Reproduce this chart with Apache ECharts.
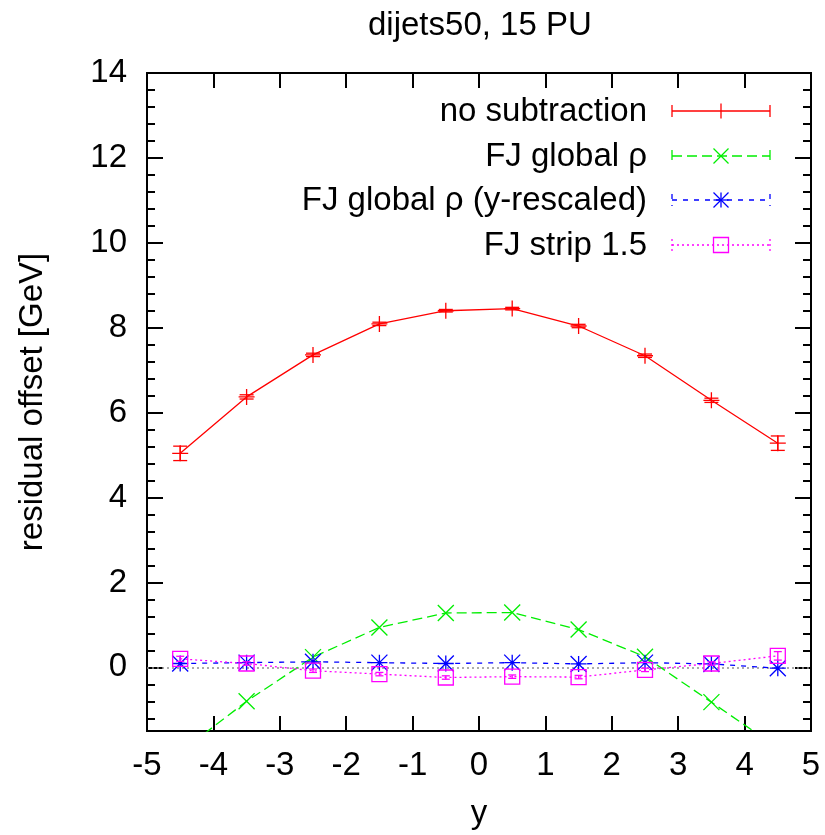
<!DOCTYPE html>
<html><head><meta charset="utf-8">
<script src="https://cdn.jsdelivr.net/npm/echarts@6/dist/echarts.min.js"></script>
<style>html,body{margin:0;padding:0;background:#fff}#chart{width:825px;height:835px}</style>
</head><body><div id="chart"></div>
<script>
const xValues = [-4.5, -3.5, -2.5, -1.5, -0.5, 0.5, 1.5, 2.5, 3.5, 4.5];
const noSub = [5.04, 6.37, 7.36, 8.09, 8.40, 8.45, 8.04, 7.34, 6.29, 5.28];
const noSubErr = [0.17, 0.05, 0.04, 0.04, 0.03, 0.03, 0.04, 0.04, 0.05, 0.17];
const fjGlobal = [-2.0, -0.80, 0.24, 0.94, 1.28, 1.29, 0.89, 0.25, -0.82, -1.9];
const fjRescaled = [0.09, 0.11, 0.13, 0.11, 0.09, 0.11, 0.08, 0.11, 0.08, -0.02];
const fjStrip = [0.20, 0.09, -0.08, -0.16, -0.24, -0.22, -0.23, -0.06, 0.09, 0.27];
const fjStripErr = [0.06, 0.04, 0.04, 0.04, 0.04, 0.04, 0.04, 0.04, 0.04, 0.10];
const seriesNames = ['no subtraction', 'FJ global ρ', 'FJ global ρ (y-rescaled)', 'FJ strip 1.5'];
const xTicks = [-5, -4, -3, -2, -1, 0, 1, 2, 3, 4, 5];
const yTicks = [0, 2, 4, 6, 8, 10, 12, 14];
const titleText = 'dijets50, 15 PU';
const xName = 'y';
const yName = 'residual offset [GeV]';

const FONT = 'Liberation Sans, Arial, Helvetica, sans-serif';
const FS = 33;
const X_MIN = -5, X_MAX = 5, Y_MIN = -1.5, Y_MAX = 14;
const LW = 1.3;

const yMinor = [];
for (let k = Math.ceil(Y_MIN / 0.4); k * 0.4 <= Y_MAX + 1e-9; k++) {
  const v = Math.round(k * 0.4 * 10) / 10;
  if (Math.abs(v / 2 - Math.round(v / 2)) > 1e-6) yMinor.push(v);
}

const COLORS = ['#ff0000', '#00ee00', '#0000ff', '#ff00ff'];
const DASH = [null, [10, 5], [5, 6], [2, 3]];
const SYM = [
  'path://M0,10L20,10M10,0L10,20',
  'path://M0,0L20,20M20,0L0,20',
  'path://M0,10L20,10M10,0L10,20M0,0L20,20M20,0L0,20',
  'rect'
];
const SYM_SIZE = [16, 16, 16, 15];

function pairs(ys) { return xValues.map((x, i) => [x, ys[i]]); }
function errData(ys, es) { return xValues.map((x, i) => [x, ys[i], es[i]]); }

function lineSeries(i, ys) {
  return {
    name: seriesNames[i], type: 'line', data: pairs(ys),
    xAxisIndex: 0, yAxisIndex: 0,
    symbol: SYM[i], symbolSize: SYM_SIZE[i], showAllSymbol: true, clip: true,
    lineStyle: { color: COLORS[i], width: LW, type: DASH[i] || 'solid' },
    itemStyle: { color: 'rgba(0,0,0,0)', borderColor: COLORS[i], borderWidth: LW },
    emphasis: { disabled: true }, silent: true, z: 3 + i
  };
}
function errSeries(i, ys, es, cap) {
  return {
    type: 'custom', xAxisIndex: 0, yAxisIndex: 0, data: errData(ys, es), silent: true, z: 3 + i,
    clip: true,
    renderItem: function (params, api) {
      const x = api.value(0), y = api.value(1), e = api.value(2);
      const t = api.coord([x, y + e]), b = api.coord([x, y - e]);
      const st = { stroke: COLORS[i], lineWidth: LW, fill: null };
      return { type: 'group', children: [
        { type: 'line', shape: { x1: t[0], y1: t[1], x2: b[0], y2: b[1] }, style: st },
        { type: 'line', shape: { x1: t[0] - cap, y1: t[1], x2: t[0] + cap, y2: t[1] }, style: st },
        { type: 'line', shape: { x1: b[0] - cap, y1: b[1], x2: b[0] + cap, y2: b[1] }, style: st }
      ]};
    }
  };
}

const series = [
  lineSeries(0, noSub),
  errSeries(0, noSub, noSubErr, 7),
  lineSeries(1, fjGlobal),
  lineSeries(2, fjRescaled),
  lineSeries(3, fjStrip),
  errSeries(3, fjStrip, fjStripErr, 4)
];
series[0].markLine = {
  silent: true, symbol: 'none', label: { show: false }, animation: false, z: 1,
  lineStyle: { color: '#909090', type: [2, 3], width: 1.5 },
  data: [{ yAxis: 0 }]
};

// legend drawn as graphics
const LEG_Y = [111, 156, 200, 245];
const LEG_TX = 647, LEG_X1 = 672, LEG_X2 = 770, LEG_XM = 721;
const graphics = [];
seriesNames.forEach((name, i) => {
  const y = LEG_Y[i];
  const st = { stroke: COLORS[i], lineWidth: LW, lineDash: DASH[i] || null };
  graphics.push({ type: 'text', x: LEG_TX, y: y + 1, style: { text: name, font: FS + 'px ' + FONT, fill: '#000', align: 'right', verticalAlign: 'middle', textAlign: 'right', textVerticalAlign: 'middle' } });
  graphics.push({ type: 'line', shape: { x1: LEG_X1, y1: y, x2: LEG_X2, y2: y }, style: st });
  graphics.push({ type: 'line', shape: { x1: LEG_X1, y1: y - 6, x2: LEG_X1, y2: y + 6 }, style: st });
  graphics.push({ type: 'line', shape: { x1: LEG_X2, y1: y - 6, x2: LEG_X2, y2: y + 6 }, style: st });
  const ms = { stroke: COLORS[i], lineWidth: LW, fill: null };
  const h = 7.5;
  if (i === 0) {
    graphics.push({ type: 'line', shape: { x1: LEG_XM, y1: y - h, x2: LEG_XM, y2: y + h }, style: ms });
  } else if (i === 1) {
    graphics.push({ type: 'line', shape: { x1: LEG_XM - h, y1: y - h, x2: LEG_XM + h, y2: y + h }, style: ms });
    graphics.push({ type: 'line', shape: { x1: LEG_XM - h, y1: y + h, x2: LEG_XM + h, y2: y - h }, style: ms });
  } else if (i === 2) {
    graphics.push({ type: 'line', shape: { x1: LEG_XM - h, y1: y - h, x2: LEG_XM + h, y2: y + h }, style: ms });
    graphics.push({ type: 'line', shape: { x1: LEG_XM - h, y1: y + h, x2: LEG_XM + h, y2: y - h }, style: ms });
    graphics.push({ type: 'line', shape: { x1: LEG_XM, y1: y - h, x2: LEG_XM, y2: y + h }, style: ms });
    graphics.push({ type: 'line', shape: { x1: LEG_XM - h, y1: y, x2: LEG_XM + h, y2: y }, style: ms });
  } else {
    graphics.push({ type: 'rect', shape: { x: LEG_XM - 7.5, y: y - 7.5, width: 15, height: 15 }, style: ms });
  }
});

const axisLineS = { show: true, onZero: false, lineStyle: { color: '#000', width: 2 } };
function xAx(pos, labels) {
  return {
    type: 'value', position: pos, min: X_MIN, max: X_MAX, interval: 1,
    axisLine: axisLineS, splitLine: { show: false },
    axisTick: { show: true, inside: true, length: 15, lineStyle: { color: '#000', width: 2 } },
    axisLabel: { show: labels, margin: 18, fontSize: FS, color: '#000', fontFamily: FONT, customValues: xTicks },
    name: labels ? xName : '', nameLocation: 'middle', nameGap: 66,
    nameTextStyle: { fontSize: FS, color: '#000', fontFamily: FONT }
  };
}
function yAx(pos, vals, len, labels, name) {
  return {
    type: 'value', position: pos, min: Y_MIN, max: Y_MAX,
    axisLine: axisLineS, splitLine: { show: false },
    axisTick: { show: true, inside: true, length: len, customValues: vals, lineStyle: { color: '#000', width: 2 } },
    axisLabel: { show: labels, margin: 20, fontSize: FS, color: '#000', fontFamily: FONT, customValues: yTicks },
    name: name || '', nameLocation: 'middle', nameGap: 98,
    nameTextStyle: { fontSize: FS, color: '#000', fontFamily: FONT }
  };
}

const option = {
  animation: false,
  backgroundColor: '#fff',
  textStyle: { fontFamily: FONT },
  title: { text: titleText, left: 363, top: 4, textStyle: { fontSize: FS, fontWeight: 'normal', color: '#000', fontFamily: FONT } },
  grid: { left: 147, right: 14, top: 73, bottom: 104, containLabel: false, outerBoundsMode: 'none' },
  xAxis: [xAx('bottom', true), xAx('top', false)],
  yAxis: [
    yAx('left', yTicks, 16, true, yName),
    yAx('left', yMinor, 8, false),
    yAx('right', yTicks, 16, false),
    yAx('right', yMinor, 8, false)
  ],
  series: series,
  graphic: graphics
};
const chart = echarts.init(document.getElementById('chart'), null, { renderer: 'canvas' });
chart.setOption(option);
</script></body></html>
